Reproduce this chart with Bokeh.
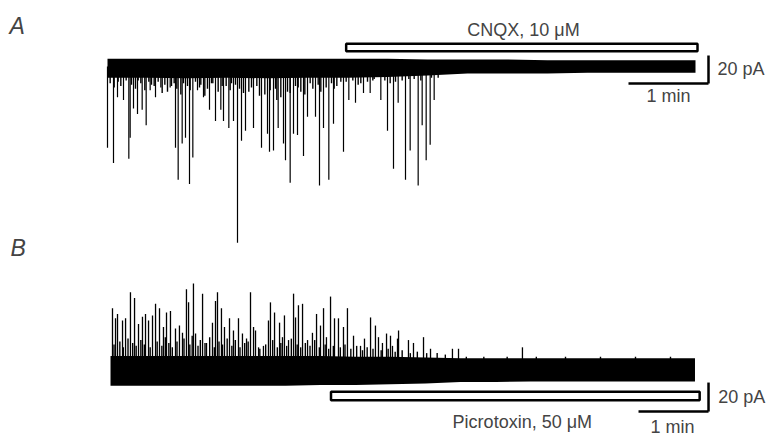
from bokeh.plotting import figure
from bokeh.models import Range1d, Label
from bokeh.embed import file_html
from bokeh.resources import INLINE

# ---------------- data ----------------
# Trace A: spontaneous EPSCs (inward, pA) ; time in s
a_spike_t = [0, 4.5, 7.5, 12, 16, 17, 19.5, 22.5, 26, 29, 32, 36, 40, 47, 51, 53, 56, 58.5,
             61.5, 64, 67.5, 72, 76.5, 81, 85, 87, 91, 94.5, 97.5, 100.5, 103.5, 109.5, 115.5,
             120, 121.5, 124.5, 128, 132, 133.5, 137, 139.5, 142.5, 147, 150, 156, 159, 162,
             166, 169.5, 177, 181, 186, 192, 197, 205, 210, 214.5, 218, 223.5, 227, 233, 236,
             239, 242, 245]
a_spike_amp = [-58, -69, -22, -24, -66, -51, -30, -34, -31, -42, -17, -22, -15, -15, -58, -81,
               -55, -51, -84, -65, -17, -22, -31, -39, -31, -39, -44, -39, -126, -53, -46, -44,
               -58, -48, -61, -60, -44, -55, -67, -83, -48, -49, -64, -36, -36, -85, -44, -81,
               -41, -61, -24, -26, -19, -19, -24, -46, -73, -26, -81, -60, -85, -42, -67, -56,
               -24]
a_small_t = [2, 10, 14, 21, 25, 31, 35, 43, 45, 50, 55, 60, 66, 70, 75, 79, 83, 89, 93, 99,
             106, 112, 118, 126, 130, 135, 141, 145, 152, 154, 158, 164, 168, 172, 175, 184,
             190, 195, 200, 208, 212, 221, 230, 248,
             5, 8, 18, 23, 28, 33, 38, 41, 48, 52, 57, 62, 69, 73, 78, 86, 92, 96, 102, 108,
             114, 122, 127, 137, 143, 148, 160, 170, 179, 188, 199, 216, 226, 235, 243]
a_small_amp = [-12, -14, -10, -16, -12, -11, -14, -13, -18, -12, -20, -14, -11, -13, -16, -12,
               -18, -14, -12, -16, -18, -14, -20, -16, -22, -18, -14, -18, -12, -16, -13, -15,
               -12, -14, -11, -10, -12, -11, -9, -10, -12, -10, -9, -8,
               -15, -11, -13, -10, -17, -13, -11, -19, -14, -16, -12, -17, -15, -21, -12, -14,
               -17, -13, -19, -15, -21, -17, -24, -19, -15, -20, -18, -16, -11, -13, -10, -11,
               -9, -10, -8]
a_band_t = [0, 30, 60, 90, 120, 150, 180, 210, 240, 270, 300, 330, 360, 390, 420, 441]
a_band_hi = [5.5, 5.5, 5.5, 5.5, 5.5, 5.5, 5.5, 5.5, 5, 5, 5, 4.5, 4.5, 4.5, 4.5, 4.5]
a_band_lo = [-8, -8, -8.5, -8, -8.5, -8, -8, -7.5, -6.5, -5, -5, -5, -4.5, -4.5, -4.5, -4.5]
cnqx_on, cnqx_off = 179, 442.5

# Trace B: spontaneous IPSCs (outward, pA) ; time in s
b_spike_t = [1.7, 4.3, 6.0, 10.3, 12.9, 17.1, 20.6, 24.0, 27.4, 30.0, 32.6, 36.0, 38.6, 42.0,
             45.4, 48.0, 51.4, 55.7, 59.1, 61.7, 65.1, 66.9, 71.1, 72.9, 78.9, 82.3, 87.4,
             90.0, 91.7, 95.1, 97.7, 102.0, 105.4, 109.7, 113.1, 116.6, 120.0, 122.6, 124.3,
             126.9, 131.1, 135.4, 137.1, 140.6, 144.9, 147.4, 149.1, 152.6, 156.9, 158.6,
             161.1, 164.6, 168.9, 173.1, 176.6, 180.0, 182.6, 185.1, 188.6, 192.0, 195.4,
             199.7, 203.1, 208.3, 214.3, 217.7, 222.9, 227.1, 229.7, 233.1, 236.6, 240.0,
             241.7, 246.0, 246.9, 255.4, 259.7, 268.3, 274.3, 293.1, 298.3, 353.1]
b_spike_amp = [43, 36, 39, 34.5, 36, 54, 50, 32, 37, 39, 34.5, 38, 46, 43, 30, 40, 41, 29, 31,
               26, 56, 47, 60, 25.5, 53, 19, 33, 48, 54, 43, 30, 36, 27.6, 36, 25.5, 22, 54, 30,
               27.6, 16, 17, 34.5, 47, 40, 33, 23, 38, 21, 53, 36.6, 45, 46, 21, 26, 39, 31, 43,
               23, 51, 36, 36, 30, 43, 24, 17, 22, 36.6, 31, 23, 19, 25.5, 24, 17, 22, 27.6,
               21, 19, 23, 15, 15, 15, 16]
b_small_t = [3, 8, 11, 15, 19, 22, 26, 29, 34, 40, 44, 47, 50, 53, 57, 63, 68, 70, 75, 77,
             81, 85, 89, 93, 96, 100, 104, 107, 111, 115, 118, 128, 133, 139, 143, 146, 151,
             155, 160, 163, 167, 171, 175, 179, 184, 187, 191, 197, 201, 206, 211, 216, 220,
             225, 232, 238, 244, 250, 257, 263, 271, 280, 287, 305, 320, 340, 365, 390, 420,
             450, 480]
b_small_amp = [18, 20, 16, 22, 19, 17, 21, 18, 16, 20, 17, 23, 19, 16, 20, 22, 18, 24, 17, 21,
               19, 23, 16, 20, 18, 22, 17, 21, 16, 19, 20, 15, 18, 21, 16, 19, 17, 22, 18, 16,
               19, 17, 21, 16, 18, 15, 17, 16, 18, 15, 17, 14, 16, 15, 14, 15, 13, 14, 12, 13,
               12, 12, 11, 9.5, 9.5, 9.5, 9.5, 9.5, 9.5, 9.5, 9.5]
b_band_t = [0, 30, 60, 90, 120, 150, 180, 210, 240, 270, 300, 330, 360, 390, 420, 450, 480, 501]
b_band_hi = [10, 10, 10, 10, 10, 10, 10, 9.5, 9.5, 9, 8.5, 8.5, 8.5, 8.5, 8.5, 8.5, 8.5, 8.5]
b_band_lo = [-10.5, -10.5, -10.5, -10.5, -10.5, -10.5, -10, -10, -9.5, -9, -8, -8, -7.5, -7.5,
             -7.5, -7.5, -7.5, -7.5]
ptx_on, ptx_off = 189, 505

FONT = "Liberation Sans"
FS = "18px"

p = figure(width=773, height=437, output_backend="svg", toolbar_location=None,
           x_axis_location=None, y_axis_location=None, min_border=0,
           x_range=Range1d(-80.25, 499.5), y_range=Range1d(-265.0, 47.1))
p.min_border_left = p.min_border_right = p.min_border_top = p.min_border_bottom = 0
p.outline_line_color = None
p.grid.visible = False
p.background_fill_color = "white"
p.border_fill_color = "white"
p.extra_x_ranges = {"tb": Range1d(-94.3, 568.3)}
p.extra_y_ranges = {"cb": Range1d(-46.2, 255.2)}

# ---- trace A ----
p.varea(x=a_band_t, y1=a_band_lo, y2=a_band_hi, fill_color="black")
p.segment(x0=a_small_t, y0=[0] * len(a_small_t), x1=a_small_t, y1=a_small_amp,
          line_color="black", line_width=1.4)
p.segment(x0=a_spike_t, y0=[0] * len(a_spike_t), x1=a_spike_t, y1=a_spike_amp,
          line_color="black", line_width=1.2)
p.quad(left=[cnqx_on], right=[cnqx_off], bottom=[10.9], top=[16.2],
       fill_color="white", line_color="black", line_width=2.5)
# scale bars A
p.segment(x0=[450.75, 390.75], y0=[7.9, -12.1], x1=[450.75, 450.75], y1=[-12.1, -12.1],
          line_color="black", line_width=2.5)
p.add_layout(Label(x=312, y=25.7, text="CNQX, 10 μM", text_align="center",
                   text_baseline="middle", text_font=FONT, text_font_size=FS))
p.add_layout(Label(x=457.5, y=-2.1, text="20 pA", text_align="left",
                   text_baseline="middle", text_font=FONT, text_font_size=FS))
p.add_layout(Label(x=420.75, y=-21.4, text="1 min", text_align="center",
                   text_baseline="middle", text_font=FONT, text_font_size=FS))

# ---- trace B ----
p.varea(x=b_band_t, y1=b_band_lo, y2=b_band_hi, fill_color="black",
        x_range_name="tb", y_range_name="cb")
p.segment(x0=b_small_t, y0=[0] * len(b_small_t), x1=b_small_t, y1=b_small_amp,
          line_color="black", line_width=1.4, x_range_name="tb", y_range_name="cb")
p.segment(x0=b_spike_t, y0=[0] * len(b_spike_t), x1=b_spike_t, y1=b_spike_amp,
          line_color="black", line_width=1.3, x_range_name="tb", y_range_name="cb")
p.quad(left=[ptx_on], right=[ptx_off], bottom=[-20.5], top=[-14.7],
       fill_color="white", line_color="black", line_width=2.5,
       x_range_name="tb", y_range_name="cb")
p.segment(x0=[512.6, 452.6], y0=[-8.3, -28.3], x1=[512.6, 512.6], y1=[-28.3, -28.3],
          line_color="black", line_width=2.5, x_range_name="tb", y_range_name="cb")
p.add_layout(Label(x=353, y=-35.2, text="Picrotoxin, 50 μM", text_align="center",
                   text_baseline="middle", text_font=FONT, text_font_size=FS,
                   x_range_name="tb", y_range_name="cb"))
p.add_layout(Label(x=521, y=-18.6, text="20 pA", text_align="left",
                   text_baseline="middle", text_font=FONT, text_font_size=FS,
                   x_range_name="tb", y_range_name="cb"))
p.add_layout(Label(x=481.7, y=-39.3, text="1 min", text_align="center",
                   text_baseline="middle", text_font=FONT, text_font_size=FS,
                   x_range_name="tb", y_range_name="cb"))

# panel letters
p.add_layout(Label(x=9, y=437 - 25, x_units="screen", y_units="screen", text="A",
                   text_baseline="middle", text_font=FONT, text_font_size="23px",
                   text_font_style="italic"))
p.add_layout(Label(x=10, y=437 - 247, x_units="screen", y_units="screen", text="B",
                   text_baseline="middle", text_font=FONT, text_font_size="23px",
                   text_font_style="italic"))

open("out.html", "w").write(file_html(p, INLINE))
